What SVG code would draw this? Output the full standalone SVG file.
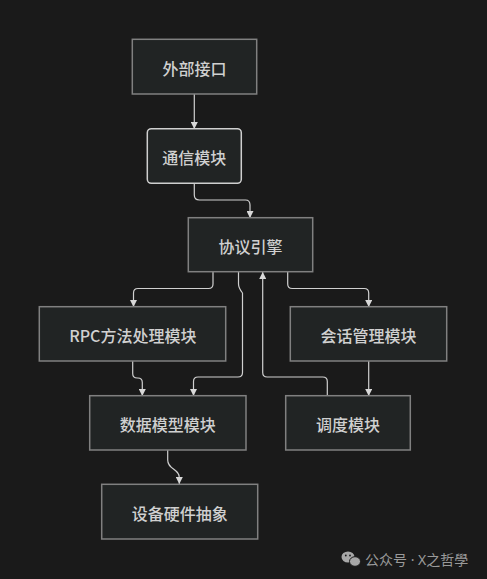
<svg xmlns="http://www.w3.org/2000/svg" width="487" height="579" viewBox="0 0 487 579">
<style>
.node rect{fill:#212424;stroke:#808080;stroke-width:1.5}
.node.hl rect{stroke:#cfcfcf}
.node text{fill:#d0d0d0;font-family:"Noto Sans CJK SC","Noto Sans",sans-serif;font-size:16px;font-weight:500;text-anchor:middle;dominant-baseline:central}
.edges path{fill:none;stroke:#d0d0d0;stroke-width:1.2}
.wm{fill:#9a9a9a;font-family:"Noto Sans","Noto Sans CJK SC",sans-serif;font-size:14px}
</style>
<defs>
<marker id="arr" viewBox="0 0 10 10" refX="10" refY="5" markerWidth="7" markerHeight="7" markerUnits="userSpaceOnUse" orient="auto">
<path d="M0,0 L10,5 L0,10 z" fill="#d8d8d8"/>
</marker>
</defs>
<rect width="487" height="579" fill="#1a1a1a"/>
<g class="edges">
<path d="M194.3,94 L194.3,129" marker-end="url(#arr)"/>
<path d="M194.3,183 L194.3,195 Q194.3,200 199.3,200 L245.5,200 Q250,200 250,205 L250,218" marker-end="url(#arr)"/>
<path d="M213,272 L213,284 Q213,288.5 208.5,288.5 L138,288.5 Q133.5,288.5 133.5,293 L133.5,307" marker-end="url(#arr)"/>
<path d="M238.5,272 L238.5,284 Q238.5,288 242.5,293 L242.5,372.5 Q242.5,377 238,377 L198,377 Q193.5,377 193.5,381.5 L193.5,396" marker-end="url(#arr)"/>
<path d="M327.3,396 L327.3,381.5 Q327.3,377 322.8,377 L267.2,377 Q262.7,377 262.7,372.5 L262.7,272" marker-end="url(#arr)"/>
<path d="M287.7,272 L287.7,284 Q287.7,288.5 292.2,288.5 L364.2,288.5 Q368.7,288.5 368.7,293 L368.7,307" marker-end="url(#arr)"/>
<path d="M132.7,361 L132.7,373.5 Q132.7,378 137.2,378 L137.8,378 Q142.3,378 142.3,382.5 L142.3,396" marker-end="url(#arr)"/>
<path d="M368.7,361 L368.7,396" marker-end="url(#arr)"/>
<path d="M167.7,450 L167.7,460 C167.7,470 179.3,468 179.3,478 L179.3,484" marker-end="url(#arr)"/>
</g>
<g id="n-external" class="node"><rect x="132.3" y="39.3" width="124.4" height="54.7"/><text x="194.5" y="67.5">外部接口</text></g>
<g id="n-comm" class="node hl"><rect x="147.3" y="128.7" width="94" height="54.6" rx="4"/><text x="194.3" y="157">通信模块</text></g>
<g id="n-protocol" class="node"><rect x="188.3" y="217.7" width="124.4" height="54"/><text x="250.5" y="245.5">协议引擎</text></g>
<g id="n-rpc" class="node"><rect x="39.3" y="306.7" width="186.4" height="54.3"/><text x="132.8" y="335">RPC方法处理模块</text></g>
<g id="n-session" class="node"><rect x="290.3" y="306.7" width="156.4" height="54.3"/><text x="368.5" y="335">会话管理模块</text></g>
<g id="n-data" class="node"><rect x="89.7" y="395.7" width="156.3" height="54.3"/><text x="167.8" y="424">数据模型模块</text></g>
<g id="n-sched" class="node"><rect x="285.7" y="395.7" width="124.6" height="54.3"/><text x="348" y="424">调度模块</text></g>
<g id="n-hw" class="node"><rect x="101.7" y="484.3" width="156" height="54.7"/><text x="179.7" y="512.8">设备硬件抽象</text></g>
<g id="watermark">
<ellipse cx="348" cy="557" rx="6.5" ry="5.5" fill="#a8a8a8"/>
<ellipse cx="355" cy="561.5" rx="5.5" ry="4.8" fill="#a8a8a8" stroke="#1a1a1a" stroke-width="1"/>
<circle cx="345.8" cy="555.5" r="0.9" fill="#1a1a1a"/>
<circle cx="350" cy="555.5" r="0.9" fill="#1a1a1a"/>
<text class="wm" x="365" y="565">公众号 · X之哲學</text>
</g>
</svg>
